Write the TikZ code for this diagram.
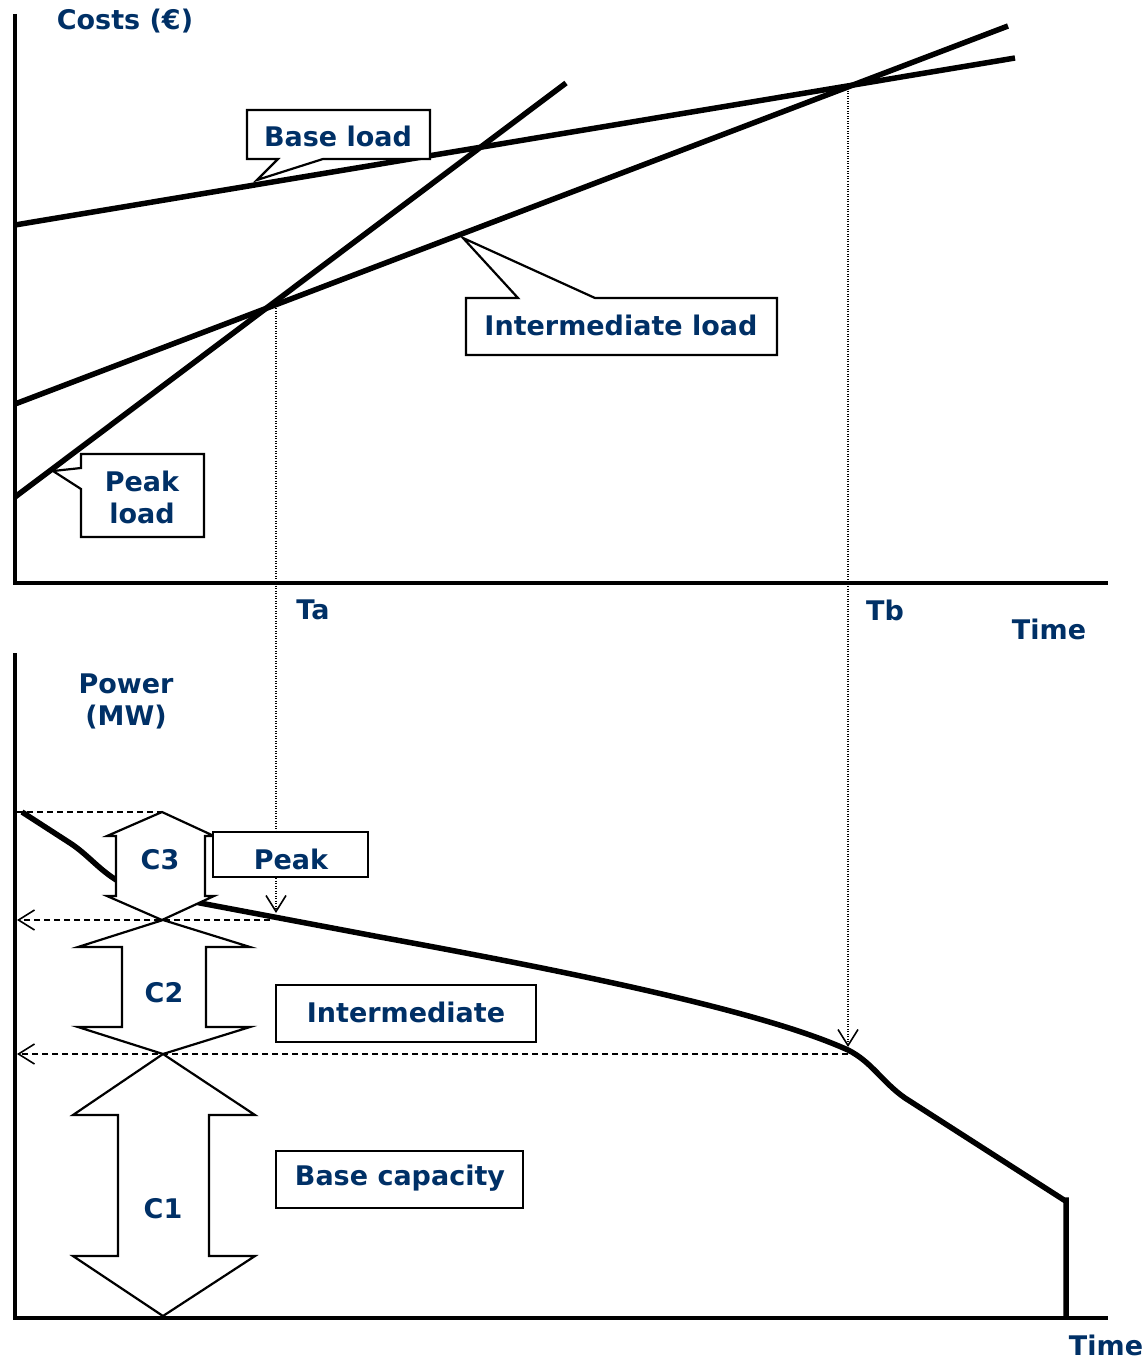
\documentclass[tikz,border=0pt]{standalone}
\usepackage{fontspec}
\setmainfont{DejaVu Sans}
\usetikzlibrary{arrows.meta}
\definecolor{navy}{RGB}{0,48,102}
\begin{document}
\begin{tikzpicture}[x=1pt,y=-1pt,
  lbl/.style={text=navy,font=\fontsize{27}{32}\selectfont\bfseries,inner sep=0pt,align=center},
  axis/.style={line width=3.3pt},
  cost/.style={line width=5.5pt},
  callout/.style={draw,line width=2.2pt,fill=white,line join=miter},
  blockarrow/.style={draw,line width=2.2pt,fill=white,line join=miter},
  guide/.style={dash pattern=on 1pt off 1.5pt,line width=1.2pt},
  dguide/.style={dash pattern=on 6pt off 4pt,line width=1.6pt},
  barb/.style={-{Straight Barb[length=16pt,width=20pt,line width=1.6pt]}},
  boxed/.style={draw=black,line width=2.2pt,fill=white}
]
\useasboundingbox (0,0) rectangle (1143,1359);

% ---------- top chart ----------
\coordinate (TaTop) at (276,303);
\coordinate (TbTop) at (848,86);
\coordinate (TaTip) at (276,913);
\coordinate (TbTip) at (848,1047);
\draw[guide,barb] (TaTop) -- (TaTip);
\draw[guide,barb] (TbTop) -- (TbTip);

\draw[axis] (15,14) -- (15,583) -- (1108,583);
\draw[cost] (15,225) -- (1015,58);
\draw[cost] (15,404) -- (1008,26);
\draw[cost] (15,497) -- (566,83);

% callouts
\draw[callout] (247,110) -- (430,110) -- (430,159) -- (323,159) -- (257,180) -- (278,159) -- (247,159) -- cycle;
\node[lbl] (baseload) at (338,136) {Base load};

\draw[callout] (466,298) -- (518,298) -- (463,238) -- (595,298) -- (777,298) -- (777,355) -- (466,355) -- cycle;
\node[lbl] (interload) at (621,325) {Intermediate load};

\draw[callout] (81,454) -- (204,454) -- (204,537) -- (81,537) -- (81,489) -- (53,471) -- (81,468) -- cycle;
\node[lbl] (peakload) at (142,497) {Peak\\load};

\node[lbl] (costs) at (125,21) {Costs (€)};
\node[lbl] (ta) at (313,610) {Ta};
\node[lbl] (tb) at (885,610) {Tb};
\node[lbl] (time1) at (1049,629) {Time};

% ---------- bottom chart ----------
\draw[axis] (15,653) -- (15,1318) -- (1108,1318);
\node[lbl] (power) at (126,701) {Power\\(MW)};
\node[lbl] (time2) at (1106,1345) {Time};

\draw[line width=5.5pt,line join=miter] (22,812) -- (70,843) .. controls (90,856) and (100,872) .. (125,885)
  -- (200,903) -- (380,937) .. controls (560,970) and (760,1010) .. (848,1050)
  .. controls (872,1062) and (882,1082) .. (905,1098) -- (1064,1200) -- (1066,1200) -- (1066,1318);

% block arrows
\draw[blockarrow] (162,812) -- (214,836) -- (205,836) -- (205,896) -- (214,896) -- (162,920)
  -- (107,896) -- (116,896) -- (116,836) -- (107,836) -- cycle;
\node[lbl] (c3) at (160,860) {C3};

\draw[blockarrow] (163,920) -- (250,947) -- (206,947) -- (206,1027) -- (250,1027) -- (163,1054)
  -- (78,1027) -- (122,1027) -- (122,947) -- (78,947) -- cycle;
\node[lbl] (c2) at (164,993) {C2};

\draw[blockarrow] (163,1054) -- (255,1115) -- (209,1115) -- (209,1256) -- (255,1256) -- (163,1316)
  -- (73,1256) -- (118,1256) -- (118,1115) -- (73,1115) -- cycle;
\node[lbl] (c1) at (163,1209) {C1};

% dashed guides
\coordinate (c3top) at (162,812);
\coordinate (yA) at (17,812);
\coordinate (mid1) at (270,920);
\coordinate (yB) at (17,920);
\coordinate (mid2) at (848,1054);
\coordinate (yC) at (17,1054);
\draw[dguide] (yA) -- (c3top);
\draw[dguide,barb] (mid1) -- (yB);
\draw[dguide,barb] (mid2) -- (yC);

% boxes
\node[boxed,minimum width=155pt,minimum height=45pt] (peakbox) at (290.5,854.5) {};
\node[lbl] (peak) at (291,859) {Peak};
\node[boxed,minimum width=260pt,minimum height=57pt] (interbox) at (406,1013.5) {};
\node[lbl] (inter) at (406,1012) {Intermediate};
\node[boxed,minimum width=247pt,minimum height=57pt] (basebox) at (399.5,1179.5) {};
\node[lbl] (base) at (400,1178) {Base capacity};
\end{tikzpicture}
\end{document}
